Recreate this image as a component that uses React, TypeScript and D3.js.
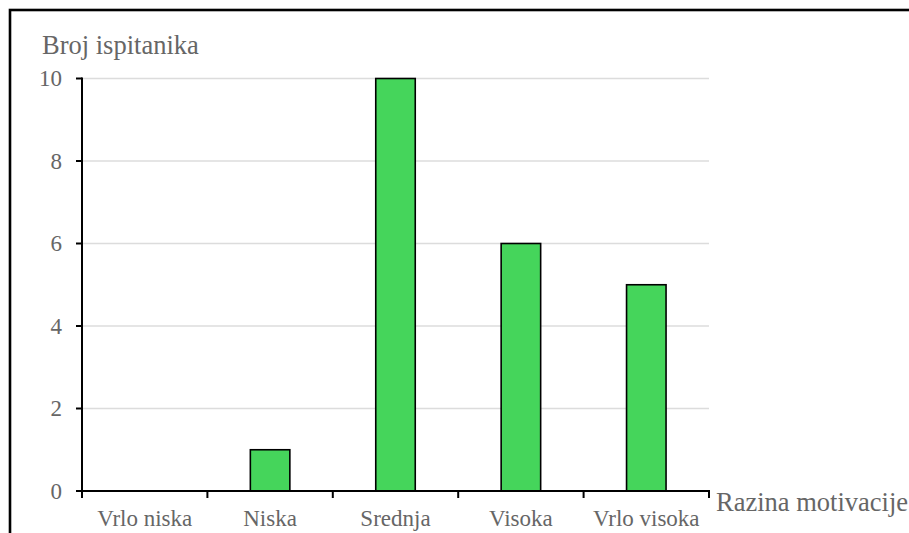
import React from "react";
import * as d3 from "d3";

const categories: string[] = ["Vrlo niska", "Niska", "Srednja", "Visoka", "Vrlo visoka"];
const values: number[] = [0, 1, 10, 6, 5];
const yTicks: number[] = [0, 2, 4, 6, 8, 10];
const yTitle = "Broj ispitanika";
const xTitle = "Razina motivacije";

const W = 909;
const H = 533;
const left = 82;
const right = 709;
const top = 78.5;
const bottom = 491;
const font = "Liberation Serif, Times New Roman, Times, DejaVu Serif, serif";
const textColor = "#666666";

export default function App() {
  const x = d3.scaleBand<string>().domain(categories).range([left, right]).padding(0);
  const y = d3.scaleLinear().domain([0, 10]).range([bottom, top]);
  const bw = x.bandwidth() * 0.315;
  const boundaries = categories.map((c) => x(c) as number).concat([right]);
  const ts = { fontFamily: font, fill: textColor } as React.CSSProperties;

  return (
    <div style={{ position: "fixed", left: 0, top: 0, width: W, height: H, overflow: "hidden", background: "#fff" }}>
      <svg width={W} height={H} style={{ display: "block" }}>
        <rect x={10} y={10} width={W + 50} height={H + 50} fill="#fff" stroke="#000" strokeWidth={2.6} />
        {yTicks.map((t) => (
          <line key={"g" + t} x1={left} x2={right} y1={y(t)} y2={y(t)} stroke="#dcdcdc" strokeWidth={1.6} />
        ))}
        {categories.map((c, i) =>
          values[i] > 0 ? (
            <rect
              key={"b" + c}
              x={(x(c) as number) + x.bandwidth() / 2 - bw / 2}
              y={y(values[i])}
              width={bw}
              height={y(0) - y(values[i])}
              fill="#45d55b"
              stroke="#000"
              strokeWidth={1.6}
            />
          ) : null
        )}
        <line x1={left} x2={left} y1={top - 1} y2={bottom} stroke="#000" strokeWidth={2} />
        {yTicks.map((t) => (
          <g key={"yt" + t}>
            <line x1={left - 6} x2={left} y1={y(t)} y2={y(t)} stroke="#000" strokeWidth={2} />
            <text x={62} y={y(t)} dy="0.34em" textAnchor="end" fontSize={23} style={ts}>
              {t}
            </text>
          </g>
        ))}
        <line x1={left - 6} x2={right + 1} y1={bottom} y2={bottom} stroke="#000" strokeWidth={2} />
        {boundaries.map((b, i) => (
          <line key={"xt" + i} x1={b} x2={b} y1={bottom} y2={bottom + 7} stroke="#000" strokeWidth={2} />
        ))}
        {categories.map((c) => (
          <text
            key={"xl" + c}
            x={(x(c) as number) + x.bandwidth() / 2}
            y={526}
            textAnchor="middle"
            fontSize={23}
            style={ts}
          >
            {c}
          </text>
        ))}
        <text x={42} y={54} fontSize={26.5} style={ts}>
          {yTitle}
        </text>
        <text x={716} y={511} fontSize={26.5} style={ts}>
          {xTitle}
        </text>
      </svg>
    </div>
  );
}
